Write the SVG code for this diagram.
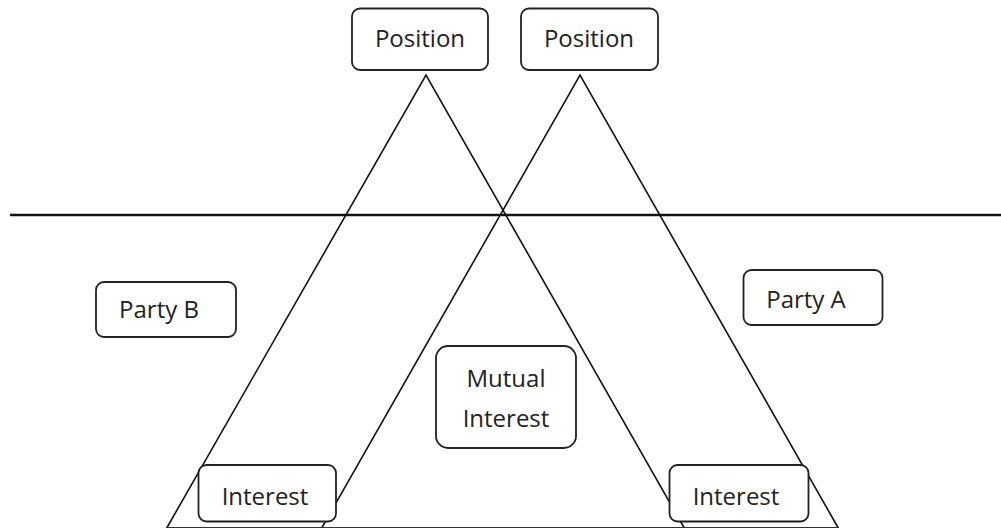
<svg xmlns="http://www.w3.org/2000/svg" width="1001" height="529" viewBox="0 0 1001 529">
<style>
.box{fill:#fff;stroke:#222;stroke-width:1.8}
.t{font-family:"Open Sans","Noto Sans",sans-serif;font-size:24px;fill:#222;text-anchor:middle}
.ln{fill:none;stroke:#111;stroke-width:1.6;stroke-linejoin:miter}
</style>
<rect width="1001" height="529" fill="#fff"/>
<g id="connectors">
<line x1="10" y1="215" x2="1001" y2="215" stroke="#111" stroke-width="2.6"/>
<polyline class="ln" points="167,527.5 426,75 684,527.5"/>
<polyline class="ln" points="322,527.5 580,75 838,527.5"/>
<line x1="166" y1="527.5" x2="839" y2="527.5" stroke="#333" stroke-width="1.2"/>
</g>
<g id="position-b">
<rect class="box" x="352" y="8.5" width="136" height="61.5" rx="8"/>
<text class="t" x="420" y="47">Position</text>
</g>
<g id="position-a">
<rect class="box" x="521" y="8.5" width="137" height="61.5" rx="8"/>
<text class="t" x="589" y="47">Position</text>
</g>
<g id="party-b">
<rect class="box" x="96" y="282" width="140" height="55" rx="8"/>
<text class="t" x="159" y="318">Party B</text>
</g>
<g id="party-a">
<rect class="box" x="743.5" y="270" width="139" height="55" rx="8"/>
<text class="t" x="806" y="308">Party A</text>
</g>
<g id="mutual-interest">
<rect class="box" x="436" y="346" width="140" height="102" rx="12"/>
<text class="t" x="506" y="387">Mutual</text>
<text class="t" x="506" y="427">Interest</text>
</g>
<g id="interest-b">
<rect class="box" x="198.5" y="465" width="137.5" height="56.5" rx="8"/>
<text class="t" x="265" y="505">Interest</text>
</g>
<g id="interest-a">
<rect class="box" x="669.5" y="465" width="139" height="56.5" rx="8"/>
<text class="t" x="736" y="505">Interest</text>
</g>
</svg>
